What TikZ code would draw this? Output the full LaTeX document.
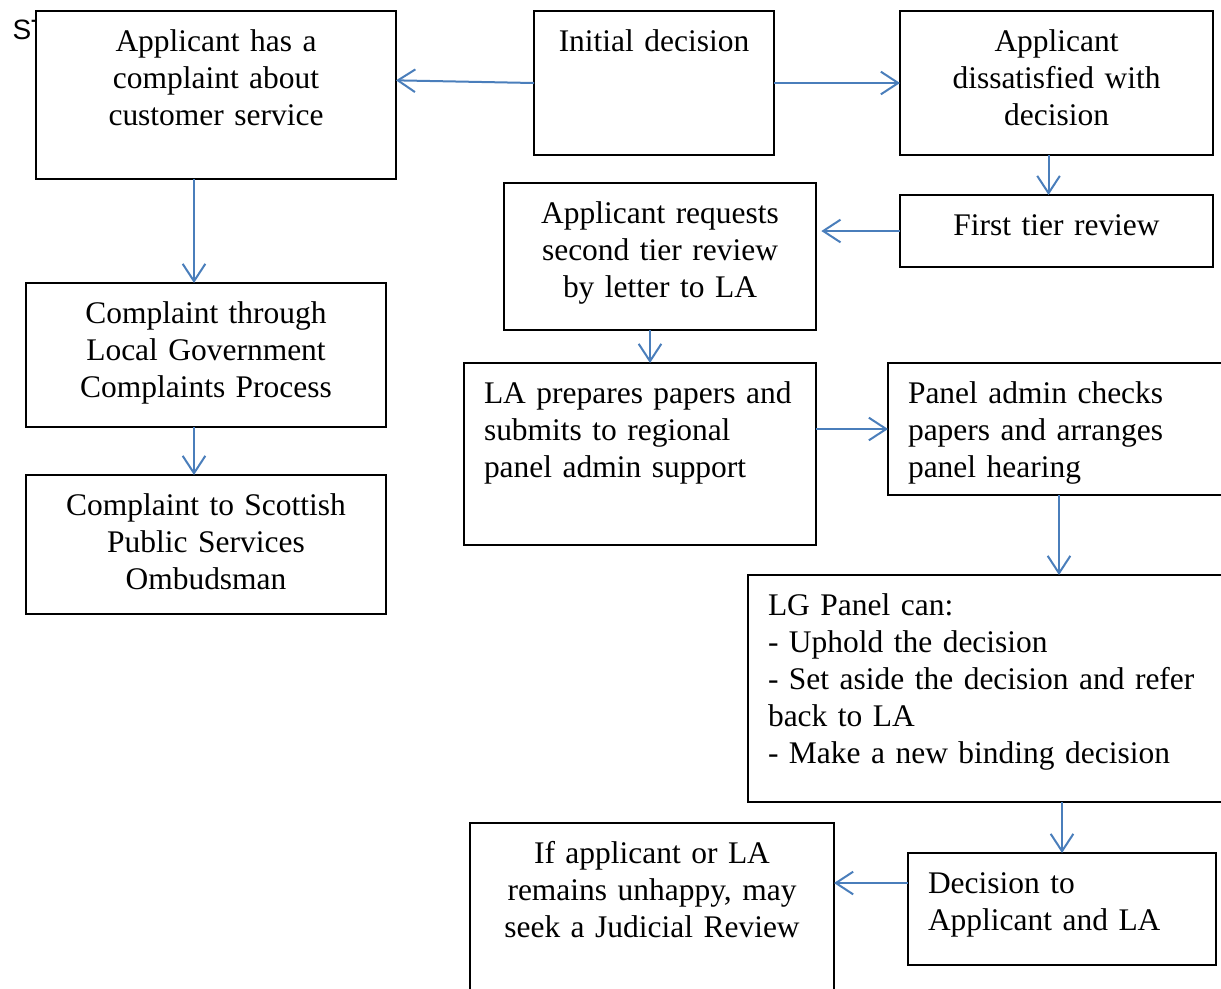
\documentclass[tikz,border=0pt]{standalone}
\usepackage{fontspec}
\setmainfont{Liberation Serif}
\newfontfamily\labelsans{Liberation Sans}
\usetikzlibrary{arrows.meta}
\definecolor{ln}{HTML}{4A7EBB}

\begin{document}
\begin{tikzpicture}[x=0.375pt, y=-0.375pt, font=\fontsize{11.8}{13.9}\selectfont,
    box/.style n args={3}{draw, line width=0.8pt, fill=white, anchor=north west, inner xsep=7.5pt, inner ysep=0pt,
      outer sep=0pt, text width=#1, text height=#2, text depth=#3},
    arr/.style={->, draw=ln, line width=0.75pt},
    >={Straight Barb[length=6.5pt, width=8.5pt]}]
  \useasboundingbox (0,0) rectangle (1221,988);
  \clip (0,0) rectangle (1221,988);
  \node[anchor=base west, inner sep=0pt, font=\labelsans\fontsize{10.5}{12}\selectfont] (st) at (12,39) {ST};

  \node[box={120pt}{15pt}{48pt}, align=center] (cust) at (36,11) {Applicant has a\\complaint about\\customer service};
  \node[box={75pt}{15pt}{39pt}, align=center] (init) at (534,11) {Initial decision};
  \node[box={102.4pt}{15pt}{39pt}, align=center] (dissat) at (900,11) {Applicant\\dissatisfied with\\decision};
  \node[box={102.4pt}{15.2pt}{11.8pt}, align=center] (first) at (900,195) {First tier review};
  \node[box={102pt}{15pt}{40.1pt}, align=center] (second) at (504,183) {Applicant requests\\second tier review\\by letter to LA};
  \node[box={120pt}{15.2pt}{38.8pt}, align=center] (lgcp) at (26,283) {Complaint through\\Local Government\\Complaints Process};
  \node[box={120pt}{15.2pt}{36.9pt}, align=center] (spso) at (26,475) {Complaint to Scottish\\Public Services\\Ombudsman};
  \node[box={117pt}{15pt}{53.25pt}, align=left] (papers) at (464,363) {LA~prepares~papers~and\\submits to regional\\panel admin support};
  \node[box={113.25pt}{15pt}{34.5pt}, align=left] (admin) at (888,363) {Panel admin checks\\papers and arranges\\panel hearing};
  \node[box={165.75pt}{15.2pt}{69.9pt}, align=left] (panel) at (748,575) {LG Panel can:\\- Uphold the decision\\- Set aside the decision and refer\\back to LA\\- Make a new binding decision};
  \node[box={100.5pt}{15pt}{27pt}, align=left] (notify) at (908,853) {Decision to\\Applicant and LA};
  \node[box={121.5pt}{15.2pt}{50.4pt}, align=center] (judicial) at (470,823) {If applicant or LA\\remains unhappy, may\\seek a Judicial Review};

  \draw[arr] (init.west) -- ([yshift=1pt]init.west -| cust.east);
  \draw[arr] (init.east) -- (dissat.west);
  \draw[arr] ([xshift=-3pt]dissat.south) -- ([xshift=-3pt]first.north);
  \draw[arr] (first.west) -- ([xshift=2pt]first.west -| second.east);
  \draw[arr] ([xshift=-8.25pt]cust.south) -- ([xshift=-4.5pt]lgcp.north);
  \draw[arr] ([xshift=-4.5pt]lgcp.south) -- ([xshift=-4.5pt]spso.north);
  \draw[arr] ([xshift=-3.75pt]second.south) -- ([xshift=-3.75pt]second.south |- papers.north);
  \draw[arr] (papers.east |- admin.west) -- (admin.west);
  \draw[arr] (admin.south) -- (admin.south |- panel.north);
  \draw[arr] (notify.north |- panel.south) -- (notify.north);
  \draw[arr] ([yshift=9.75pt]notify.west) -- ([yshift=9.75pt]notify.west -| judicial.east);
\end{tikzpicture}
\end{document}
